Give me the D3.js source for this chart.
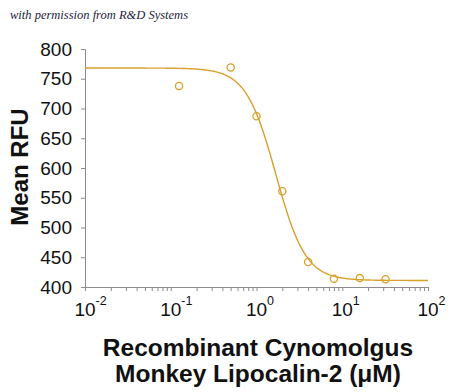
<!DOCTYPE html>
<html><head><meta charset="utf-8">
<script src="https://cdn.jsdelivr.net/npm/d3@7"></script>
<style>body{margin:0;background:#fff}svg{display:block}</style>
</head><body>
<svg id="c" width="450" height="392"></svg>
<script>
const conc = [0.125, 0.5, 1, 2, 4, 8, 16, 32];
const rfu = [738, 769, 687, 561, 442, 414, 415, 413];
const yTicks = [400, 450, 500, 550, 600, 650, 700, 750, 800];
const xDecades = [-2, -1, 0, 1, 2];
// 4-parameter logistic fit
const fitTop = 768, fitBottom = 411, fitIC50 = 1.68, fitHill = 2.5;

const svg = d3.select("#c");
const x = d3.scaleLog().domain([0.01, 100]).range([85, 428]);
const y = d3.scaleLinear().domain([400, 800]).range([287, 49]);
const axisCol = "#8c8c8c", col = "#D9A02C";
const ff = "Liberation Sans, Arial, sans-serif";

// y axis
const ya = svg.append("g").attr("transform", "translate(85,0)")
  .call(d3.axisLeft(y).tickValues(yTicks).tickSize(4).tickPadding(9).tickFormat(d3.format("d")));
ya.select(".domain").attr("stroke", axisCol);
ya.selectAll(".tick line").attr("stroke", axisCol);
ya.selectAll("text").attr("font-family", ff).attr("font-size", 19).attr("fill", "#111");

// x axis with minor ticks
const minor = [];
for (let e = -2; e < 2; e++) for (let m = 1; m <= 9; m++) minor.push(m * Math.pow(10, e));
minor.push(100);
const xa = svg.append("g").attr("transform", "translate(0,287)")
  .call(d3.axisBottom(x).tickValues(minor).tickSize(4).tickFormat(""));
xa.select(".domain").attr("stroke", axisCol);
xa.selectAll(".tick line").attr("stroke", axisCol);

const xl = svg.append("g").attr("font-family", ff).attr("fill", "#111");
xDecades.forEach(e => {
  const t = xl.append("text").attr("y", 316).attr("font-size", 19);
  const b = t.append("tspan").text("10");
  t.append("tspan").attr("dy", -11).attr("font-size", 12.5).text(e);
  const w = b.node().getComputedTextLength();
  t.attr("x", x(Math.pow(10, e)) - w / 2);
});

// fitted curve
const curveX = d3.range(-2, 2.0001, 0.01).map(l => Math.pow(10, l));
const f = c => fitBottom + (fitTop - fitBottom) / (1 + Math.pow(c / fitIC50, fitHill));
svg.append("path").datum(curveX)
  .attr("d", d3.line().x(d => x(d)).y(d => y(f(d))))
  .attr("fill", "none").attr("stroke", col).attr("stroke-width", 1.4);

// points
svg.append("g").selectAll("circle").data(conc).join("circle")
  .attr("cx", d => x(d)).attr("cy", (d, i) => y(rfu[i])).attr("r", 3.6)
  .attr("fill", "none").attr("stroke", col).attr("stroke-width", 1.3);

// titles
svg.append("text").attr("transform", "translate(28,167) rotate(-90)").attr("text-anchor", "middle")
  .attr("font-family", ff).attr("font-weight", "bold").attr("font-size", 24).attr("fill", "#111")
  .text("Mean RFU");
const xt = svg.append("text").attr("text-anchor", "middle")
  .attr("font-family", ff).attr("font-weight", "bold").attr("font-size", 24.5).attr("fill", "#111");
xt.append("tspan").attr("x", 258).attr("y", 356).text("Recombinant Cynomolgus");
xt.append("tspan").attr("x", 258).attr("y", 382).text("Monkey Lipocalin-2 (\u03BCM)");

svg.append("text").attr("x", 10).attr("y", 19).attr("font-family", "Liberation Serif, serif").attr("font-style", "italic")
  .attr("font-size", 12.5).attr("fill", "#1c1c3c").text("with permission from R&D Systems");
</script>
</body></html>
